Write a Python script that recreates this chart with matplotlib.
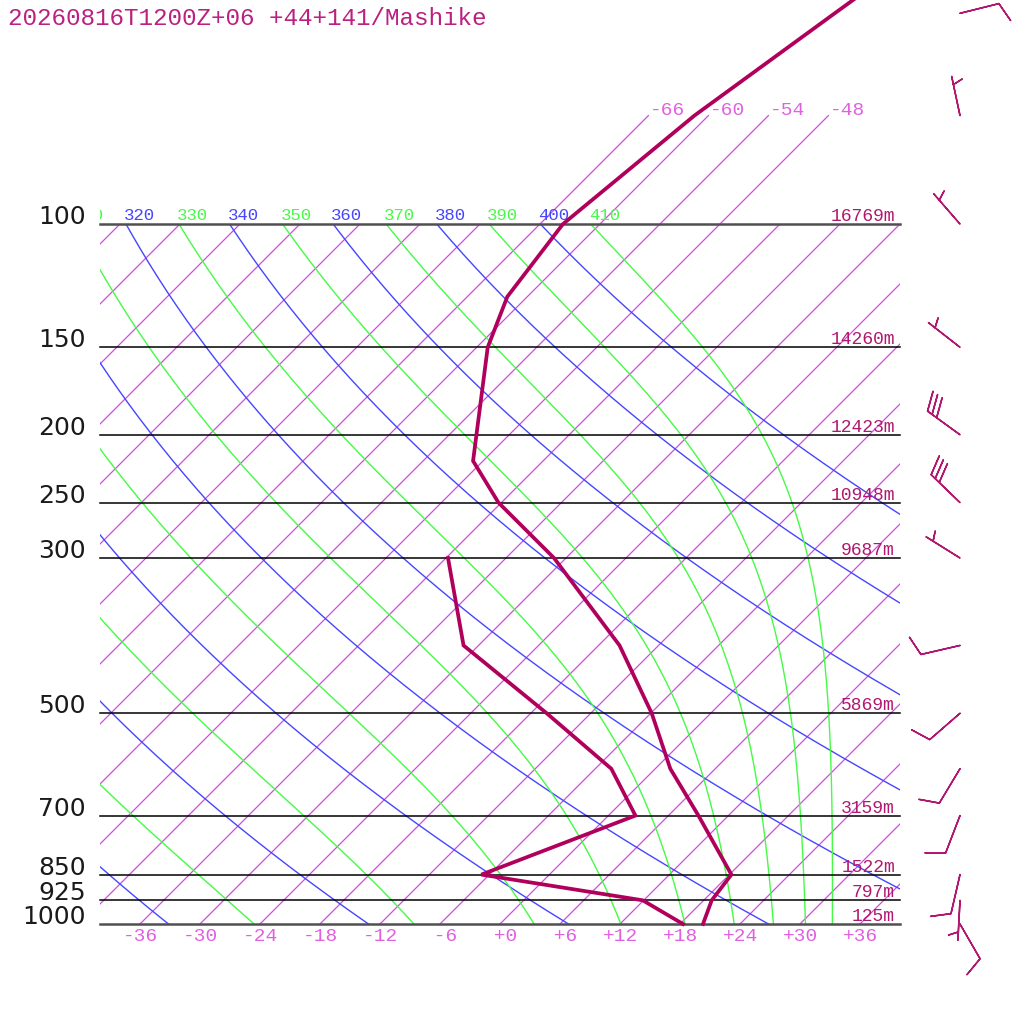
import numpy as np
import matplotlib
matplotlib.use('Agg')
from matplotlib import pyplot as plt
from matplotlib import transforms as mtransforms

# sounding (hPa, deg C)
p_temp = [1000, 925, 850, 700, 600, 500, 400, 300, 250, 218, 150, 127, 100, 70, 50, 30]
temp = [20.3, 18.8, 18.2, 9.0, 1.5, -5.9, -15.9, -31.2, -42.3, -49.0, -58.9, -62.0, -63.7, -61.4, -57.6, -51.7]
p_dew = [1000, 925, 850, 700, 600, 500, 400, 300]
dewp = [18.3, 11.9, -6.8, 2.7, -4.4, -16.4, -31.5, -41.8]

# winds (direction from, knots)
p_wind = [1000, 925, 850, 700, 600, 500, 400, 300, 250, 200, 150, 100, 70, 50]
wdir = [150, 183, 193, 201, 211, 229, 257, 302, 314, 306, 308, 319, 348, 76]
wspd = [10, 5, 10, 10, 10, 10, 10, 5, 30, 30, 5, 5, 5, 10]

# isobars with their labels and heights
p_levels = [1000, 925, 850, 700, 500, 300, 250, 200, 150, 100]
level_labels = ['1000', '925', '850', '700', '500', '300', '250', '200', '150', '100']
heights = ['125m', '797m', '1522m', '3159m', '5869m', '9687m', '10948m', '12423m', '14260m', '16769m']

iso_ticks = [-36, -30, -24, -18, -12, -6, 0, 6, 12, 18, 24, 30, 36]
iso_top = [-66, -60, -54, -48]
theta_dry = [240, 260, 280, 300, 320, 340, 360, 380, 400]
theta_moist = [250, 270, 290, 310, 330, 350, 370, 390, 410]
title = '20260816T1200Z+06 +44+141/Mashike'

PROF = '#b0005c'
TITLE_C = '#bb2080'
HGT_C = '#b01870'
ISO_C = '#d04ce0'
ISO_LBL = '#e060e0'
BLUE = '#4646ff'
GREEN = '#46fa46'
MONO = 'Liberation Mono'

# pixel layout: 1000 hPa at y=924, 100 hPa at y=224, 10 px per degree
p_top = 1000 * np.exp(-924 / 304)
p_bot = 1000 * np.exp(100 / 304)
shift100 = 30.4 * np.log(10)  # skew offset (deg) at 100 hPa

fig = plt.figure(figsize=(10.24, 10.24), dpi=100)
ax = fig.add_axes([0, 0, 1, 1])
ax.set_yscale('log')
ax.set_xlim(-50, 52.4)
ax.set_ylim(p_bot, p_top)
ax.set_autoscale_on(False)
ax.set_axis_off()

skew = ax.transData + mtransforms.Affine2D().skew_deg(45, 0).translate(-100, 0)
box = mtransforms.TransformedBbox(mtransforms.Bbox.from_extents(-40, 100, 40, 1000), ax.transData)
top_box = mtransforms.TransformedBbox(mtransforms.Bbox.from_extents(-40, p_top, 40, 1000), ax.transData)
lbl_trans = mtransforms.offset_copy(skew, fig, x=-2, y=4, units='dots')

pp = np.geomspace(1000, 100, 300)

# isotherms
for t in range(-120, 43, 6):
    ln, = ax.plot([t, t], [1000, 100], color=ISO_C, lw=0.9, transform=skew)
    ln.set_clip_box(box)
for t in iso_top:
    ax.plot([t, t], [100, 70], color=ISO_C, lw=0.9, transform=skew, clip_on=False)
    ax.text(t, 70, '%d' % t, transform=mtransforms.offset_copy(skew, fig, x=1, y=1, units='dots'),
            ha='left', va='baseline', color=ISO_LBL, fontsize=14, family=MONO)

# dry adiabats
for th in theta_dry:
    tt = th * (pp / 1000) ** 0.2857 - 273.15
    ln, = ax.plot(tt, pp, color=BLUE, lw=1.0, transform=skew)
    ln.set_clip_box(box)
    if tt[-1] + shift100 > -45:
        txt = ax.text(tt[-1], 100, str(th), transform=lbl_trans, ha='left', va='baseline',
                      color=BLUE, fontsize=12.5, family=MONO, clip_on=True)
        txt.set_clip_box(top_box)


# moist adiabats from Bolton's saturated theta-e
def moist_temp(the, pres):
    tk = np.linspace(150, 330, 5000)
    out = []
    for p in pres:
        with np.errstate(all='ignore'):
            es = 6.112 * np.exp(17.67 * (tk - 273.15) / (tk - 29.65))
            r = 0.622 * es / (p - es)
            te = tk * (1000 / p) ** (0.2854 * (1 - 0.28 * r)) * np.exp((3.376 / tk - 0.00254) * r * 1000 * (1 + 0.81 * r))
        te = np.where(es < 0.25 * p, te, 1e5 + tk)
        out.append(np.interp(the, te, tk))
    return np.array(out) - 273.15


for th in theta_moist:
    tt = moist_temp(th, pp)
    ln, = ax.plot(tt, pp, color=GREEN, lw=1.0, transform=skew)
    ln.set_clip_box(box)
    if tt[-1] + shift100 > -45:
        txt = ax.text(tt[-1], 100, str(th), transform=lbl_trans, ha='left', va='baseline',
                      color=GREEN, fontsize=12.5, family=MONO, clip_on=True)
        txt.set_clip_box(top_box)

# isobars
for p, lab, h in zip(p_levels, level_labels, heights):
    edge = p in (100, 1000)
    ax.plot([-40, 40], [p, p], color='#505050' if edge else 'black', lw=1.8 if edge else 1.1)
    ax.text(-41.4, p, lab, ha='right', va='baseline', fontsize=18, color='#1a1a1a',
            family='DejaVu Sans')
    ax.text(39.5, p, h, ha='right', va='baseline', fontsize=13, color=HGT_C, family=MONO,
            transform=mtransforms.offset_copy(ax.transData, fig, x=0, y=3, units='dots'))

for t in iso_ticks:
    ax.text(t, 1042.7, ('%+d' % t).rjust(3), ha='center', va='center', fontsize=14,
            color=ISO_LBL, family=MONO)

# profiles
ax.plot(temp, p_temp, color=PROF, lw=2.7, transform=skew, solid_joinstyle='miter', zorder=6)
ax.plot(dewp, p_dew, color=PROF, lw=2.7, transform=skew, solid_joinstyle='miter', zorder=6)

# wind barbs
wd = np.radians(wdir)
u = -np.array(wspd) * np.sin(wd)
v = -np.array(wspd) * np.cos(wd)
ax.barbs(np.full(len(p_wind), 46.0), p_wind, u, v, length=7.6, pivot='tip', color=HGT_C,
         linewidth=1.1, sizes=dict(spacing=0.14, height=0.48, width=0.36, emptybar=0.0),
         zorder=7, clip_on=False)

fig.text(8 / 1024, 1 - 25 / 1024, title, ha='left', va='baseline', fontsize=17.5,
         color=TITLE_C, family=MONO)

fig.savefig('out.png', dpi=100)
